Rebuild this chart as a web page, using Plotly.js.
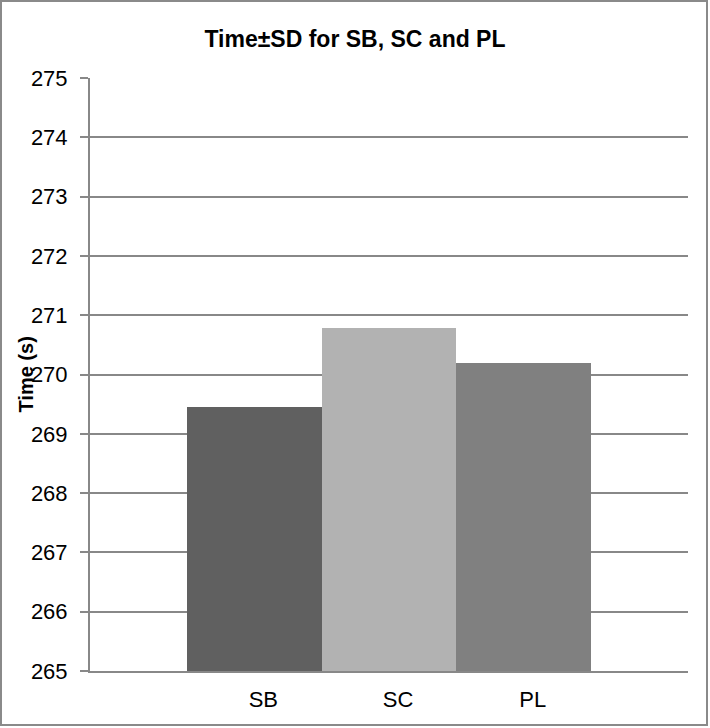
<!DOCTYPE html>
<html>
<head>
<meta charset="utf-8">
<script src="https://cdn.plot.ly/plotly-3.0.1.min.js"></script>
<style>
  body { margin: 0; background: #fff; }
  #wrap { position: relative; width: 710px; height: 728px; }
  #frame {
    position: absolute; left: 0; top: 0; width: 708px; height: 726px;
    box-sizing: border-box; border: 2px solid #8a8a8a; pointer-events: none;
  }
</style>
</head>
<body>
<div id="wrap">
  <div id="time-chart"></div>
  <div id="frame"></div>
</div>
<script>
// values
const groups = ['SB', 'SC', 'PL'];
const meanTime = [269.46, 270.79, 270.2];
const yTicks = [265, 266, 267, 268, 269, 270, 271, 272, 273, 274, 275];

function drawTimeChart() {
  const barColors = ['#606060', '#b2b2b2', '#808080'];
  const font = 'Liberation Sans, Arial, sans-serif';

  const data = [{
    type: 'bar',
    x: groups,
    y: meanTime,
    marker: { color: barColors, line: { width: 0 } },
    hoverinfo: 'x+y'
  }];

  const layout = {
    width: 710,
    height: 728,
    margin: { l: 90, r: 22, t: 78, b: 57 },
    paper_bgcolor: '#fff',
    plot_bgcolor: '#fff',
    showlegend: false,
    bargap: 0,
    title: {
      text: '<b>Time±SD for SB, SC and PL</b>',
      font: { family: font, size: 23, color: '#000' },
      x: 0.5, xref: 'container', xanchor: 'center',
      y: 1 - 39 / 728, yref: 'container', yanchor: 'middle'
    },
    xaxis: {
      type: 'category',
      range: [-1.22, 3.22],
      showgrid: false,
      showline: true,
      linecolor: '#888',
      linewidth: 2,
      ticks: '',
      ticklabelstandoff: 8,
      ticklabelshift: 9,
      tickfont: { family: font, size: 22, color: '#000' },
      fixedrange: true
    },
    yaxis: {
      range: [265, 275],
      tickvals: yTicks,
      showgrid: true,
      gridcolor: '#888',
      gridwidth: 2,
      zeroline: false,
      showline: true,
      linecolor: '#888',
      linewidth: 2,
      ticks: 'outside',
      ticklen: 8,
      tickwidth: 2,
      tickcolor: '#888',
      ticklabelstandoff: 8,
      tickfont: { family: font, size: 22, color: '#000' },
      fixedrange: true
    },
    annotations: [{
      text: '<b>Time (s)</b>',
      font: { family: font, size: 20, color: '#000' },
      textangle: -90,
      xref: 'paper', x: 0, xshift: -65, xanchor: 'center',
      yref: 'paper', y: 0.5, yanchor: 'middle',
      showarrow: false
    }]
  };

  Plotly.newPlot('time-chart', data, layout, { displayModeBar: false, staticPlot: true });
}

document.addEventListener('DOMContentLoaded', drawTimeChart);
</script>
</body>
</html>
